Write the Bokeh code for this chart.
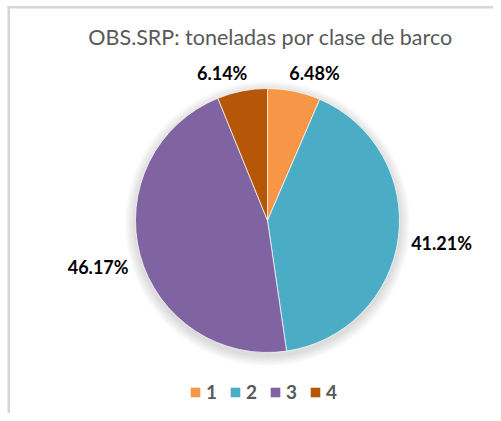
import math
from bokeh.plotting import figure
from bokeh.models import Legend, LegendItem, ColumnDataSource, Title
from bokeh.core.properties import value
from bokeh.embed import file_html
from bokeh.resources import INLINE

# ---- data ----
title_text = "OBS.SRP: toneladas por clase de barco"
categories = ["1", "2", "3", "4"]
shares = [6.48, 41.21, 46.17, 6.14]
colors = ["#F79646", "#4BACC6", "#8064A2", "#B65708"]

# ---- layout (pixels inside the figure) ----
W, H = 493, 413
cx, cy, R = 267, 193, 132
FONT = "Lato"

p = figure(width=W, height=H, output_backend="svg", toolbar_location=None,
           x_range=(0, W), y_range=(0, H), min_border=0,
           x_axis_type=None, y_axis_type=None, title=None)
p.grid.visible = False
p.outline_line_color = None
p.background_fill_color = "white"
p.border_fill_color = "white"

# frame lines (light grey border at left and top)
p.quad(left=[7, 7], right=[W, 9.5], bottom=[405, 0], top=[407.5, 407.5],
       fill_color="#d6d6d6", line_color=None)

# soft shadow around the pie
for i in range(1, 8):
    p.circle(x=cx, y=cy - 3, radius=R + 1.5 * i, fill_color="#000000",
             fill_alpha=0.02, line_color=None)

total = sum(shares)
starts, ends, mids = [], [], []
acc = 0.0
for s in shares:
    a0 = math.pi / 2 - 2 * math.pi * acc / total
    acc += s
    a1 = math.pi / 2 - 2 * math.pi * acc / total
    starts.append(a0)
    ends.append(a1)
    mids.append((a0 + a1) / 2)

src = ColumnDataSource(dict(cat=categories, share=shares, color=colors,
                            start=starts, end=ends))
p.wedge(x=cx, y=cy, radius=R, start_angle="start", end_angle="end",
        direction="clock", fill_color="color", line_color="white",
        line_width=1, line_alpha=0.7, source=src)

# data labels (centre of each label box just outside the pie)
gap = 13
lx, ly, lt = [], [], []
for s, m in zip(shares, mids):
    txt = f"{s:.2f}%"
    w, h = 10 * len(txt), 12
    dx, dy = math.cos(m), math.sin(m)
    d = R + gap + abs(dx) * w / 2 + abs(dy) * h / 2
    px, py = cx + d * dx, cy + d * dy
    if abs(dy) > 0.8:  # labels near the top are pushed apart sideways
        px += 15.5 * (1 if dx > 0 else -1)
        py -= 5.5 * (1 if dy > 0 else -1)
    lx.append(px)
    ly.append(py)
    lt.append(txt)
p.text(x=lx, y=ly, text=lt, text_align="center", text_baseline="middle",
       text_font=value(FONT), text_font_style="bold",
       text_font_size="18px", text_color="#000000")

# title
p.text(x=[270], y=[377], text=[title_text], text_align="center",
       text_baseline="middle", text_font=value(FONT),
       text_font_size="21.5px", text_color="#595959")

# legend
items = []
for c, col in zip(categories, colors):
    r = p.quad(left=[float("nan")], right=[float("nan")], top=[float("nan")],
               bottom=[float("nan")], fill_color=col, line_color=None)
    items.append(LegendItem(label=c, renderers=[r]))
leg = Legend(items=items, orientation="horizontal", location=(189, 10),
             glyph_width=12, glyph_height=12, label_standoff=5, spacing=12,
             label_width=10, padding=0, margin=0, border_line_color=None,
             background_fill_alpha=0, label_text_font=FONT,
             label_text_font_style="bold", label_text_font_size="19px",
             label_text_color="#595959")
p.add_layout(leg)

open("out.html", "w").write(file_html(p, INLINE))
